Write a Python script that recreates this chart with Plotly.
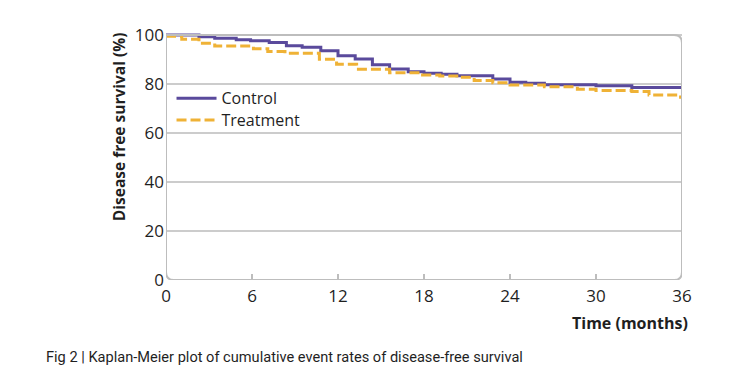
import plotly.graph_objects as go

# Data (months, % disease free)
control_t = [0, 2.3, 3.4, 4.9, 5.9, 7.2, 8.4, 9.5, 10.8, 12.0, 13.2, 14.4, 15.6, 16.9,
             18.0, 19.2, 20.3, 22.8, 24.0, 25.1, 26.4, 30.0, 32.5, 36]
control_s = [100, 99.3, 98.7, 98.0, 97.6, 96.9, 95.6, 95.0, 93.6, 91.5, 90.2, 87.8, 86.1, 85.0,
             84.4, 84.0, 83.4, 82.0, 80.7, 80.3, 79.7, 79.3, 78.6, 78.6]
treat_t = [0, 1.1, 2.3, 3.4, 6.1, 7.1, 8.3, 10.7, 11.9, 13.3, 15.6, 17.9, 19.1, 20.5,
           21.5, 22.8, 24.0, 26.4, 28.7, 30.0, 32.5, 33.7, 35.9, 36]
treat_s = [99.5, 98.3, 96.6, 95.5, 94.4, 93.2, 92.5, 90.1, 88.0, 86.0, 84.6, 83.7, 83.3, 82.7,
           81.4, 80.5, 79.6, 78.9, 77.8, 77.3, 76.9, 75.5, 74.6, 74.6]
x_ticks = [0, 6, 12, 18, 24, 30, 36]
y_ticks = [0, 20, 40, 60, 80, 100]

PURPLE = "#5a4a9c"
ORANGE = "#efb236"
GRID = "#cccccc"
TXT = "#1f1f1f"
FONT = "Open Sans, Noto Sans, sans-serif"

fig = go.Figure()
fig.add_trace(go.Scatter(x=control_t, y=control_s, mode="lines", name="Control",
                         line=dict(color=PURPLE, width=3, shape="hv"), legend="legend"))
fig.add_trace(go.Scatter(x=treat_t, y=treat_s, mode="lines", name="Treatment",
                         line=dict(color=ORANGE, width=3, shape="hv", dash="10px,4px"),
                         legend="legend2"))

xmax = x_ticks[-1]
ymax = y_ticks[-1]
# rounded frame (radius in data units ~ 8px)
rx = 0.55
ry = 3.3
path = (f"M 0,{ymax} L 0,{ry} Q 0,0 {rx},0 L {xmax-rx},0 Q {xmax},0 {xmax},{ry} "
        f"L {xmax},{ymax-ry} Q {xmax},{ymax} {xmax-rx},{ymax} L 0,{ymax}")
fig.add_shape(type="path", path=path, xref="x", yref="y",
              line=dict(color="#bdbdbd", width=2), layer="above")

leg_common = dict(xanchor="left", yanchor="middle", bgcolor="rgba(0,0,0,0)",
                  font=dict(size=16, color=TXT, family=FONT), itemwidth=40)

fig.update_layout(
    width=742, height=383,
    margin=dict(l=158, r=68, t=25, b=111),
    paper_bgcolor="white", plot_bgcolor="white",
    font=dict(family=FONT, size=17, color=TXT),
    showlegend=True,
    legend=dict(x=0.0107, y=0.7356, **leg_common),
    legend2=dict(x=0.0107, y=0.6478, **leg_common),
    xaxis=dict(range=[0, xmax], tickvals=x_ticks, ticks="inside", ticklen=6,
               tickcolor="#bdbdbd", tickwidth=1.5, showgrid=False, zeroline=False,
               showline=False, tickfont=dict(size=17), ticklabelstandoff=4),
    yaxis=dict(range=[0, ymax + 0.8], tickvals=y_ticks, showgrid=True, gridcolor=GRID,
               gridwidth=1.5, zeroline=False, showline=False, ticks="",
               tickfont=dict(size=17), ticklabelstandoff=1),
)

fig.add_annotation(text="<b>Disease free survival (%)</b>", textangle=-90,
                   xref="paper", yref="paper", x=-0.092, y=0.621,
                   xanchor="center", yanchor="middle", showarrow=False,
                   font=dict(size=15.5, color=TXT))
fig.add_annotation(text="<b>Time (months)</b>", xref="paper", yref="paper",
                   x=1.0155, y=-0.174, xanchor="right", yanchor="middle", showarrow=False,
                   font=dict(size=16, color=TXT))
fig.add_annotation(text="Fig 2 | Kaplan-Meier plot of cumulative event rates of disease-free survival",
                   xref="paper", yref="paper", x=-0.2357, y=-0.312, xanchor="left",
                   yanchor="middle", showarrow=False,
                   font=dict(size=14.6, color=TXT,
                             family="Liberation Sans Narrow, Roboto, sans-serif"))

fig.write_html("out.html")
